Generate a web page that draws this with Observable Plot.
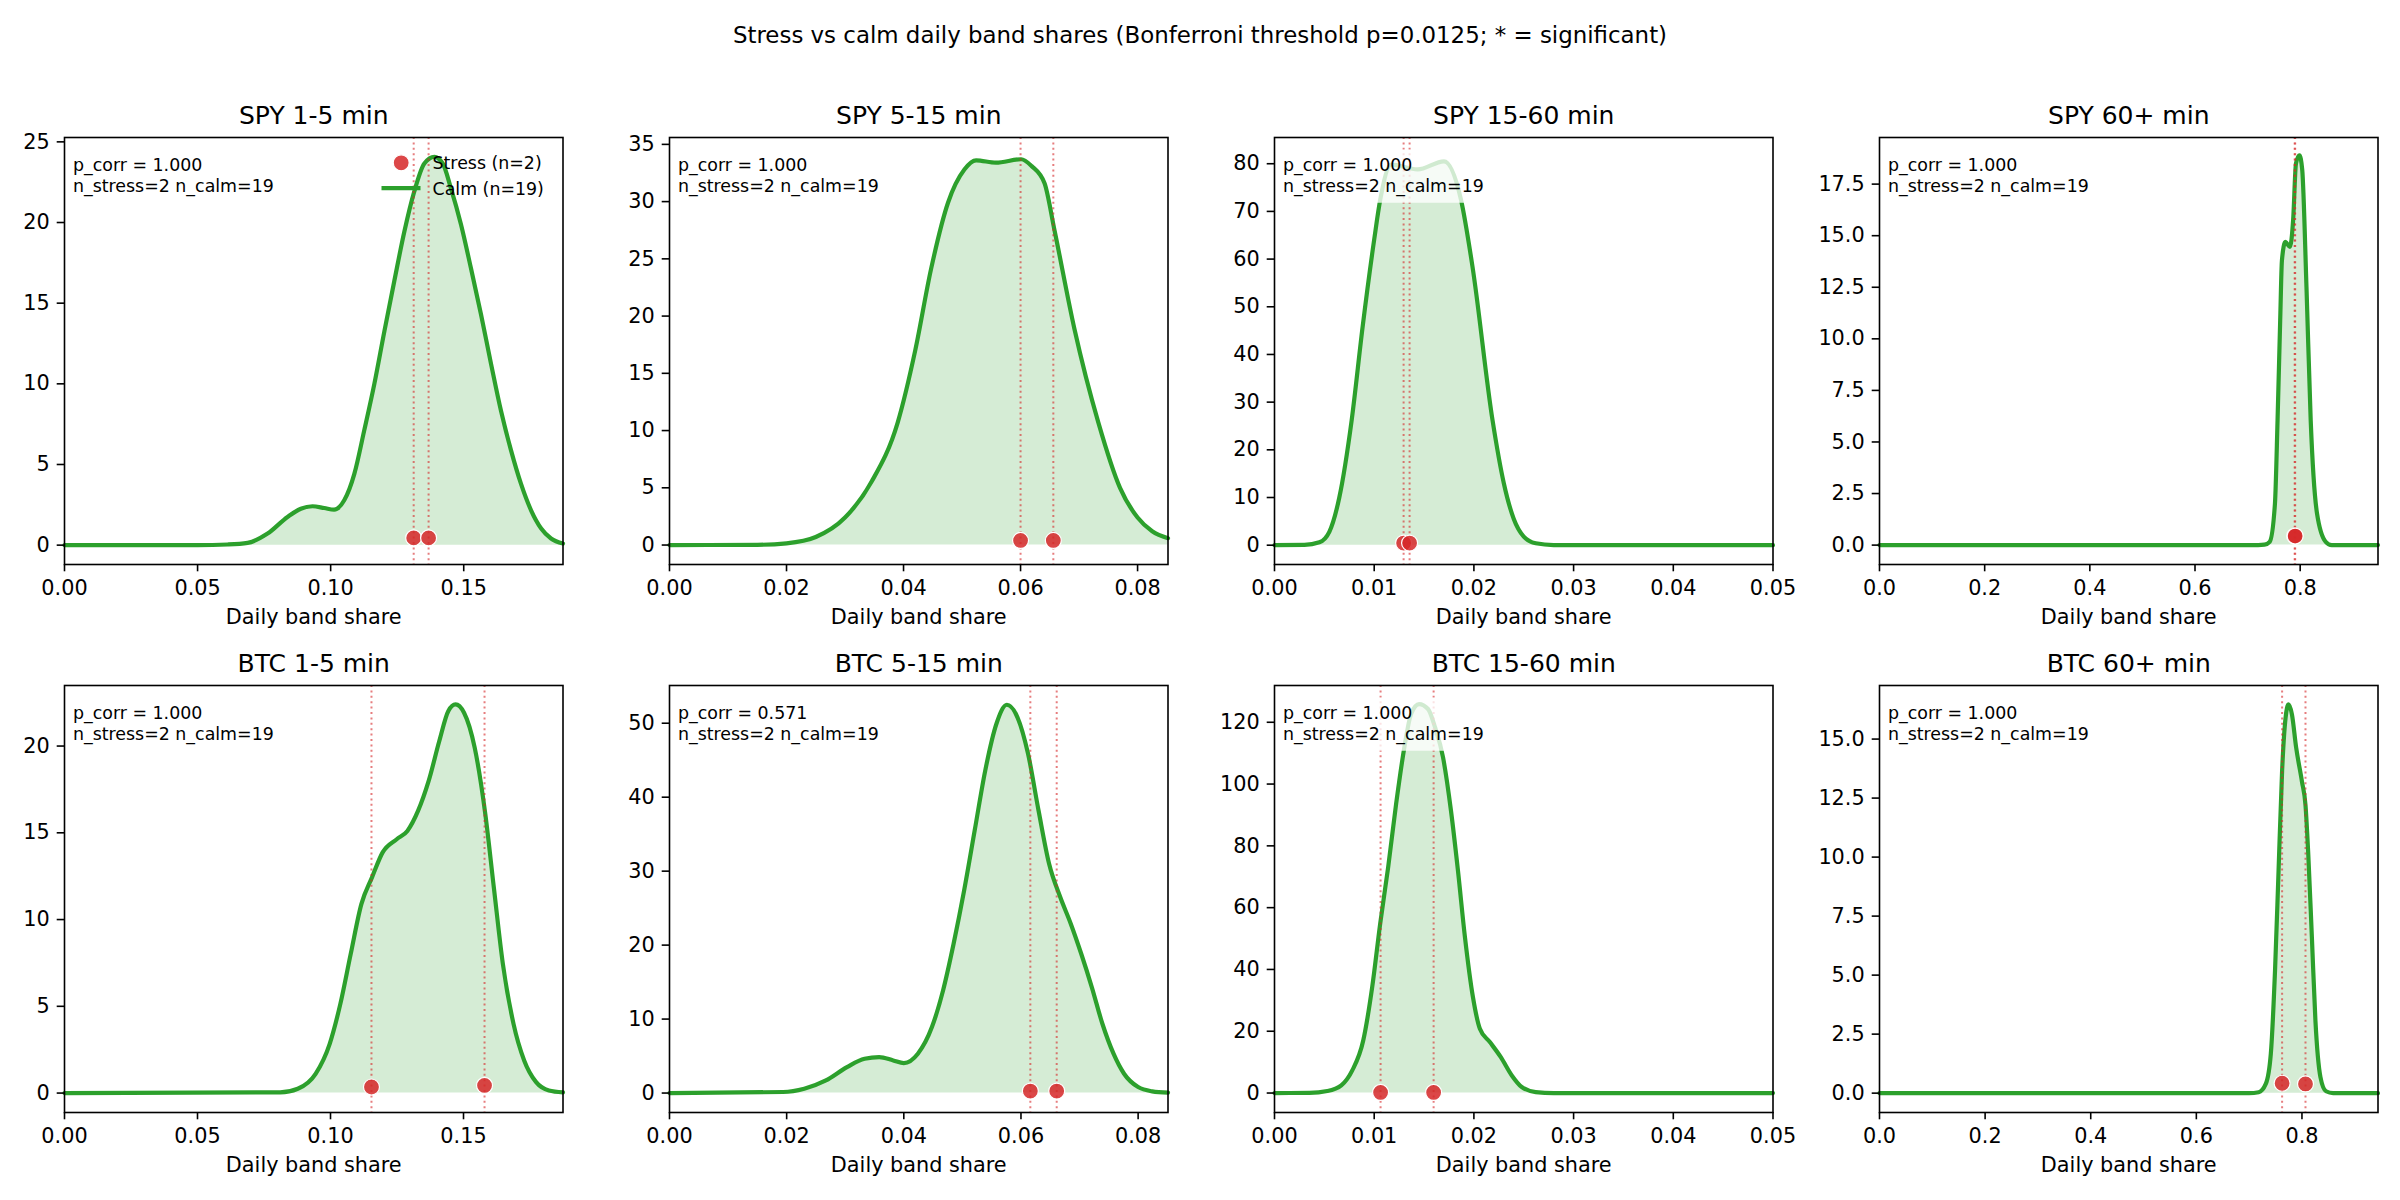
<!DOCTYPE html>
<html>
<head>
<meta charset="utf-8">
<script src="https://cdn.jsdelivr.net/npm/d3@7"></script>
<script src="https://cdn.jsdelivr.net/npm/@observablehq/plot@0.6"></script>
<style>
  body { margin: 0; background: #fff; }
  #fig { position: relative; width: 2400px; height: 1200px; background: #fff; font-family: "DejaVu Sans", sans-serif; overflow: hidden; }
  #suptitle { position: absolute; left: 0; top: 20px; width: 2400px; height: 30px; line-height: 30px; text-align: center; font-size: 22.9px; color: #000; }
  .panel { position: absolute; }
</style>
</head>
<body>
<div id="fig"><div id="suptitle">Stress vs calm daily band shares (Bonferroni threshold p=0.0125; * = significant)</div></div>
<script>
// ---------------- DATA ----------------
const panelTitles = ["SPY 1-5 min", "SPY 5-15 min", "SPY 15-60 min", "SPY 60+ min",
                     "BTC 1-5 min", "BTC 5-15 min", "BTC 15-60 min", "BTC 60+ min"];
const pCorr = ["1.000", "1.000", "1.000", "1.000", "1.000", "0.571", "1.000", "1.000"];
const nStress = [2, 2, 2, 2, 2, 2, 2, 2];
const nCalm = [19, 19, 19, 19, 19, 19, 19, 19];
const xLabel = "Daily band share";
const legendLabels = ["Stress (n=2)", "Calm (n=19)"];

// Calm KDE curves (x = band share, y = density)
const spy15X = [0, 0.05, 0.0613, 0.0688, 0.0763, 0.0838, 0.0888, 0.0932, 0.0976, 0.1013, 0.1051, 0.1089, 0.1126, 0.1164, 0.1202, 0.1239, 0.1277, 0.1314, 0.1352, 0.1390, 0.1421, 0.1452, 0.1490, 0.1527, 0.1565, 0.1603, 0.1640, 0.1678, 0.1715, 0.1753, 0.1791, 0.1828, 0.1873];
const spy15Y = [0, 0, 0.04, 0.14, 0.72, 1.75, 2.26, 2.41, 2.30, 2.20, 2.78, 4.42, 7.10, 9.98, 13.27, 16.36, 19.44, 21.91, 23.66, 24.07, 23.66, 22.12, 19.86, 17.18, 14.30, 11.21, 8.33, 5.86, 3.81, 2.16, 1.03, 0.41, 0.10];

const spy515X = [0, 0.015, 0.020, 0.025, 0.030, 0.0345, 0.039, 0.042, 0.0447, 0.0476, 0.0504, 0.0524, 0.0558, 0.0601, 0.0619, 0.0641, 0.0658, 0.0692, 0.0733, 0.077, 0.080, 0.0825, 0.0852];
const spy515Y = [0, 0.02, 0.15, 0.7, 2.4, 5.5, 10.7, 17.0, 24.1, 29.9, 32.8, 33.6, 33.4, 33.7, 33.1, 31.6, 27.5, 18.9, 10.7, 5.0, 2.4, 1.2, 0.6];

const spy1560X = [0, 0.003, 0.0045, 0.0055, 0.0065, 0.00774, 0.00884, 0.0100, 0.01061, 0.0117, 0.01435, 0.0170, 0.0187, 0.01986, 0.02187, 0.0230, 0.0240, 0.0250, 0.0262, 0.028, 0.05];
const spy1560Y = [0, 0.05, 0.6, 2.8, 10.0, 26.2, 45.8, 64.1, 72.5, 79.8, 78.8, 80.5, 72.5, 58.4, 26.2, 13.0, 5.5, 1.8, 0.4, 0.03, 0];

const spy60X = [0, 0.72, 0.732, 0.742, 0.752, 0.757, 0.762, 0.7653, 0.7718, 0.7805, 0.7866, 0.792, 0.7986, 0.8039, 0.812, 0.820, 0.832, 0.8486, 0.86, 0.948];
const spy60Y = [0, 0, 0.02, 0.16, 2.0, 6.06, 10.9, 13.8, 14.7, 14.46, 15.75, 18.5, 18.9, 18.2, 12.5, 6.06, 1.54, 0.16, 0, 0];

const btc15X = [0, 0.0811, 0.0877, 0.0944, 0.0997, 0.1037, 0.1076, 0.1116, 0.1156, 0.1196, 0.1249, 0.1289, 0.1329, 0.1369, 0.1409, 0.1443, 0.1470, 0.1502, 0.1542, 0.1582, 0.1614, 0.1648, 0.1688, 0.1728, 0.1773, 0.1821, 0.1874];
const btc15Y = [0, 0.04, 0.25, 1.11, 2.84, 5.14, 8.02, 10.89, 12.43, 13.87, 14.63, 15.11, 16.26, 17.99, 20.29, 22.02, 22.40, 21.92, 19.91, 16.07, 11.85, 7.44, 3.99, 1.88, 0.63, 0.15, 0.04];

const btc515X = [0, 0.0194, 0.0230, 0.0267, 0.0303, 0.0333, 0.0358, 0.0382, 0.0400, 0.0424, 0.0448, 0.0467, 0.0485, 0.0503, 0.0521, 0.0539, 0.0558, 0.0576, 0.0594, 0.0612, 0.0630, 0.0648, 0.0667, 0.0685, 0.0703, 0.0721, 0.0739, 0.0758, 0.0776, 0.0800, 0.0824, 0.0851];
const btc515Y = [0, 0.14, 0.59, 1.71, 3.51, 4.64, 4.86, 4.41, 4.05, 5.32, 8.92, 13.87, 20.18, 27.39, 35.5, 43.6, 49.9, 52.5, 50.8, 45.9, 38.2, 31.0, 26.5, 22.9, 18.8, 14.3, 9.37, 5.32, 2.61, 0.81, 0.23, 0.05];

const btc1560X = [0, 0.0035, 0.0053, 0.0067, 0.0078, 0.0089, 0.0098, 0.0106, 0.0114, 0.0122, 0.0130, 0.0137, 0.0145, 0.0154, 0.0161, 0.0169, 0.0177, 0.0184, 0.0191, 0.0199, 0.0206, 0.0216, 0.0227, 0.0238, 0.0248, 0.0262, 0.028, 0.05];
const btc1560Y = [0, 0.05, 0.65, 2.48, 7.33, 17.0, 34.3, 54.8, 73.1, 93.6, 111.4, 122.7, 125.9, 124.3, 118.4, 108.7, 91.4, 72.0, 50.5, 31.1, 20.8, 16.5, 11.6, 5.7, 1.94, 0.32, 0, 0];

const btc60X = [0, 0.70, 0.718, 0.7315, 0.741, 0.749, 0.7557, 0.7624, 0.769, 0.7745, 0.781, 0.789, 0.800, 0.8067, 0.812, 0.8188, 0.8255, 0.835, 0.8456, 0.859, 0.944];
const btc60Y = [0, 0, 0.04, 0.39, 1.66, 5.19, 9.42, 13.65, 15.9, 16.47, 16.05, 14.64, 13.2, 12.2, 10.1, 6.6, 3.07, 0.68, 0.08, 0, 0];

// Stress-day shares (dots + dotted lines) and the dot heights
const spy15S = [0.1312, 0.1368],   spy15SY = [0.45, 0.45];
const spy515S = [0.0600, 0.0656],  spy515SY = [0.4, 0.4];
const spy1560S = [0.01295, 0.01355], spy1560SY = [0.45, 0.45];
const spy60S = [0.7895, 0.7905],   spy60SY = [0.44, 0.44];
const btc15S = [0.1154, 0.1579],   btc15SY = [0.35, 0.44];
const btc515S = [0.0616, 0.0661],  btc515SY = [0.27, 0.27];
const btc1560S = [0.01064, 0.01596], btc1560SY = [0.2, 0.2];
const btc60S = [0.7624, 0.8067],   btc60SY = [0.42, 0.39];

// Axis limits and tick values
const xMax = [0.1873, 0.0852, 0.05, 0.948, 0.1874, 0.0851, 0.05, 0.944];
const yMin = [-1.2, -1.7, -4.05, -0.94, -1.12, -2.63, -6.3, -0.82];
const yMax = [25.27, 35.6, 85.5, 19.76, 23.49, 55.1, 131.9, 17.27];
const xTicks15 = [0, 0.05, 0.10, 0.15];
const xTicks515 = [0, 0.02, 0.04, 0.06, 0.08];
const xTicks1560 = [0, 0.01, 0.02, 0.03, 0.04, 0.05];
const xTicks60 = [0, 0.2, 0.4, 0.6, 0.8];
const yTicksSpy15 = [0, 5, 10, 15, 20, 25];
const yTicksSpy515 = [0, 5, 10, 15, 20, 25, 30, 35];
const yTicksSpy1560 = [0, 10, 20, 30, 40, 50, 60, 70, 80];
const yTicksSpy60 = [0, 2.5, 5, 7.5, 10, 12.5, 15, 17.5];
const yTicksBtc15 = [0, 5, 10, 15, 20];
const yTicksBtc515 = [0, 10, 20, 30, 40, 50];
const yTicksBtc1560 = [0, 20, 40, 60, 80, 100, 120];
const yTicksBtc60 = [0, 2.5, 5, 7.5, 10, 12.5, 15];

// ---------------- ASSEMBLY ----------------
const curvesX = [spy15X, spy515X, spy1560X, spy60X, btc15X, btc515X, btc1560X, btc60X];
const curvesY = [spy15Y, spy515Y, spy1560Y, spy60Y, btc15Y, btc515Y, btc1560Y, btc60Y];
const stressX = [spy15S, spy515S, spy1560S, spy60S, btc15S, btc515S, btc1560S, btc60S];
const stressY = [spy15SY, spy515SY, spy1560SY, spy60SY, btc15SY, btc515SY, btc1560SY, btc60SY];
const xTicksByCol = [xTicks15, xTicks515, xTicks1560, xTicks60];
const yTicksAll = [yTicksSpy15, yTicksSpy515, yTicksSpy1560, yTicksSpy60, yTicksBtc15, yTicksBtc515, yTicksBtc1560, yTicksBtc60];

const GREEN = "#2ca02c", RED = "#d62728";
const colLeft = [63.5, 669, 1273.5, 1878.5];
const rowTop = [136.5, 685];
const W = 498.5, H = 427;
const ML = 80, MR = 20, MT = 48, MB = 74;

const fig = document.getElementById("fig");

for (let i = 0; i < 8; i++) {
  const col = i % 4, row = Math.floor(i / 4);
  const curve = curvesX[i].map((x, j) => ({x, y: curvesY[i][j]}));
  const stress = stressX[i].map((x, j) => ({x, y: stressY[i][j]}));
  const xf = col === 3 ? d3.format(".1f") : d3.format(".2f");
  const yf = (col === 3) ? d3.format(".1f") : d3.format("d");
  const annot = `p_corr = ${pCorr[i]}\nn_stress=${nStress[i]} n_calm=${nCalm[i]}`;

  const svg = Plot.plot({
    width: ML + W + MR,
    height: MT + H + MB,
    marginLeft: ML, marginRight: MR, marginTop: MT, marginBottom: MB,
    style: {fontFamily: "DejaVu Sans, sans-serif", fontSize: "20.8px", color: "#000", background: "transparent", overflow: "visible"},
    x: {domain: [0, xMax[i]]},
    y: {domain: [yMin[i], yMax[i]]},
    marks: [
      Plot.areaY(curve, {x: "x", y: "y", fill: GREEN, fillOpacity: 0.2, curve: "monotone-x"}),
      Plot.line(curve, {x: "x", y: "y", stroke: GREEN, strokeWidth: 4.2, curve: "monotone-x"}),
      Plot.ruleX(stressX[i], {stroke: RED, strokeOpacity: 0.6, strokeWidth: 2, strokeDasharray: "2,3.4"}),
      Plot.dot(stress, {x: "x", y: "y", r: 8, fill: RED, fillOpacity: 0.85, stroke: "white", strokeWidth: 1.2}),
      Plot.frame({stroke: "#000", strokeWidth: 1.6}),
      Plot.axisX({ticks: xTicksByCol[col], tickFormat: xf, tickSize: 7.3, tickPadding: 8.7, fontSize: 20.8, strokeWidth: 1.6, label: null}),
      Plot.axisY({ticks: yTicksAll[i], tickFormat: yf, tickSize: 7.3, tickPadding: 7.5, fontSize: 20.8, strokeWidth: 1.6, label: null}),
      Plot.text([panelTitles[i]], {text: d => d, frameAnchor: "top", dy: -31, fontSize: 25}),
      Plot.text([xLabel], {text: d => d, frameAnchor: "bottom", dy: 59, fontSize: 20.8}),
      Plot.text([annot], {text: d => d, frameAnchor: "top-left", textAnchor: "start", lineAnchor: "top",
                          dx: 8.5, dy: 19.45, fontSize: 17.4, lineHeight: 1.172})
    ]
  });

  const div = document.createElement("div");
  div.className = "panel";
  div.style.left = (colLeft[col] - ML) + "px";
  div.style.top = (rowTop[row] - MT) + "px";
  div.appendChild(svg);
  fig.appendChild(div);

  // semi-transparent white box behind the annotation text
  Array.from(svg.querySelectorAll("text"))
    .filter(t => t.textContent.startsWith("p_corr"))
    .forEach(t => {
      const bb = t.getBBox();
      const pad = 6;
      const tr = t.getAttribute("transform");
      const rect = document.createElementNS("http://www.w3.org/2000/svg", "rect");
      rect.setAttribute("x", bb.x - pad);
      rect.setAttribute("y", bb.y - pad);
      rect.setAttribute("width", bb.width + 2 * pad);
      rect.setAttribute("height", bb.height + 2 * pad);
      rect.setAttribute("rx", 3);
      rect.setAttribute("fill", "white");
      rect.setAttribute("fill-opacity", 0.78);
      rect.setAttribute("stroke", "none");
      if (tr) rect.setAttribute("transform", tr);
      t.parentNode.insertBefore(rect, t);
    });

  // legend (first panel only)
  if (i === 0) {
    const lg = d3.select(svg).append("g").attr("transform", `translate(${ML},${MT})`)
      .attr("font-family", "DejaVu Sans, sans-serif").attr("font-size", 17.4).attr("text-anchor", "start");
    lg.append("circle").attr("cx", 337.2).attr("cy", 25.8).attr("r", 8)
      .attr("fill", RED).attr("fill-opacity", 0.85).attr("stroke", "white").attr("stroke-width", 1.2);
    lg.append("line").attr("x1", 317.5).attr("x2", 356.5).attr("y1", 51.2).attr("y2", 51.2)
      .attr("stroke", GREEN).attr("stroke-width", 4.2);
    lg.append("text").attr("x", 368.5).attr("y", 32.1).attr("fill", "#000").attr("text-anchor", "start").text(legendLabels[0]);
    lg.append("text").attr("x", 368.5).attr("y", 57.5).attr("fill", "#000").attr("text-anchor", "start").text(legendLabels[1]);
  }
}
</script>
</body>
</html>
